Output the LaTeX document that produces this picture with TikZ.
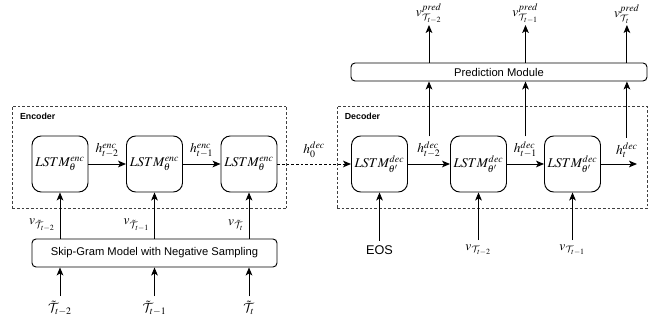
\documentclass[tikz,border=0pt]{standalone}
\usepackage{amsmath,amssymb}
\usepackage{mathptmx}
\DeclareMathAlphabet{\mathcal}{OMS}{cmsy}{m}{n}
\usepackage{fontspec}
\setsansfont{Liberation Sans}
\usetikzlibrary{arrows.meta,positioning}

\begin{document}
\begin{tikzpicture}[x=0.75pt, y=-0.75pt,
    lstm/.style={rectangle, draw, rounded corners=7pt, minimum width=42pt, minimum height=42pt, inner sep=0pt, line width=0.7pt},
    group/.style={rectangle, draw=black!75, dash pattern=on 2pt off 1.5pt, line width=0.6pt},
    module/.style={rectangle, draw, rounded corners=3pt, line width=0.7pt, font=\sffamily\fontsize{8.4}{10}\selectfont},
    title/.style={font=\sffamily\bfseries\fontsize{6.6}{8}\selectfont, inner sep=1pt},
    arrow/.style={-{Stealth[length=6pt,width=5pt,inset=1.5pt]}, line width=0.7pt}
]
    \useasboundingbox (0,0) rectangle (667,324);

    % encoder
    \node[group, minimum width=206pt, minimum height=77pt] (encbox) at (149.5,157.5) {};
    \node[title, anchor=north west] (enctitle) at ([xshift=5pt,yshift=-4pt]encbox.north west) {Encoder};
    \node[lstm] (enc1) at (60,164) {$LSTM^{enc}_{\theta}$};
    \node[lstm] (enc2) at (154.5,164) {$LSTM^{enc}_{\theta}$};
    \node[lstm] (enc3) at (249,164) {$LSTM^{enc}_{\theta}$};
    \draw[arrow] (enc1) -- node[above=1pt] (he1) {$h^{enc}_{t-2}$} (enc2);
    \draw[arrow] (enc2) -- node[above=1pt] (he2) {$h^{enc}_{t-1}$} (enc3);

    % skip-gram embedding
    \node[module, minimum width=183.75pt, minimum height=21pt] (sg) at (154.5,253) {Skip-Gram Model with Negative Sampling};
    \node (in1) at (60,308) {$\tilde{\mathcal{T}}_{t-2}$};
    \node (in2) at (154.5,308) {$\tilde{\mathcal{T}}_{t-1}$};
    \node (in3) at (249,308) {$\tilde{\mathcal{T}}_{t}$};
    \draw[arrow] (in1) -- (in1 |- sg.south);
    \draw[arrow] (in2) -- (in2 |- sg.south);
    \draw[arrow] (in3) -- (in3 |- sg.south);
    \draw[arrow] (enc1 |- sg.north) -- node[left, pos=0.3] (ve1) {$v_{\tilde{\mathcal{T}}_{t-2}}$} (enc1);
    \draw[arrow] (enc2 |- sg.north) -- node[left, pos=0.3] (ve2) {$v_{\tilde{\mathcal{T}}_{t-1}}$} (enc2);
    \draw[arrow] (enc3 |- sg.north) -- node[left, pos=0.3] (ve3) {$v_{\tilde{\mathcal{T}}_{t}}$} (enc3);

    % decoder
    \node[group, minimum width=232.5pt, minimum height=77pt] (decbox) at (492,157.5) {};
    \node[title, anchor=north west] (dectitle) at ([xshift=5pt,yshift=-4pt]decbox.north west) {Decoder};
    \node[lstm] (dec1) at (379.5,164) {$LSTM^{dec}_{\theta'}$};
    \node[lstm] (dec2) at (478.5,164) {$LSTM^{dec}_{\theta'}$};
    \node[lstm] (dec3) at (572.5,164) {$LSTM^{dec}_{\theta'}$};
    \coordinate (hout) at (637,164);
    \draw[arrow, dash pattern=on 2pt off 1.5pt] (enc3) -- node[above=1pt] (h0) {$h^{dec}_{0}$} (dec1);
    \draw[arrow] (dec1) -- node[above=1pt] (hd1) {$h^{dec}_{t-2}$} (dec2);
    \draw[arrow] (dec2) -- node[above=1pt] (hd2) {$h^{dec}_{t-1}$} (dec3);
    \draw[arrow] (dec3) -- node[above=1pt, pos=0.72] (hd3) {$h^{dec}_{t}$} (hout);

    % decoder inputs
    \node[font=\sffamily\fontsize{9.5}{11}\selectfont] (eos) at (379.5,250) {EOS};
    \node (vd1) at (478.5,250) {$v_{\mathcal{T}_{t-2}}$};
    \node (vd2) at (572.5,250) {$v_{\mathcal{T}_{t-1}}$};
    \draw[arrow] (eos) -- (dec1);
    \draw[arrow] (vd1) -- (dec2);
    \draw[arrow] (vd2) -- (dec3);

    % prediction
    \node[module, minimum width=222pt, minimum height=13.5pt] (pm) at (499,72) {Prediction Module};
    \coordinate (predtop) at (0,25);
    \draw[arrow] (hd1.north) -- (hd1.north |- pm.south);
    \draw[arrow] (hd2.north) -- (hd2.north |- pm.south);
    \draw[arrow] (hd3.north) -- (hd3.north |- pm.south);
    \draw[arrow] (hd1 |- pm.north) -- (hd1 |- predtop) node[anchor=south, inner sep=1pt] (pr1) {$v^{pred}_{\mathcal{T}_{t-2}}$};
    \draw[arrow] (hd2 |- pm.north) -- (hd2 |- predtop) node[anchor=south, inner sep=1pt] (pr2) {$v^{pred}_{\mathcal{T}_{t-1}}$};
    \draw[arrow] (hd3 |- pm.north) -- (hd3 |- predtop) node[anchor=south, inner sep=1pt] (pr3) {$v^{pred}_{\mathcal{T}_{t}}$};
\end{tikzpicture}
\end{document}
